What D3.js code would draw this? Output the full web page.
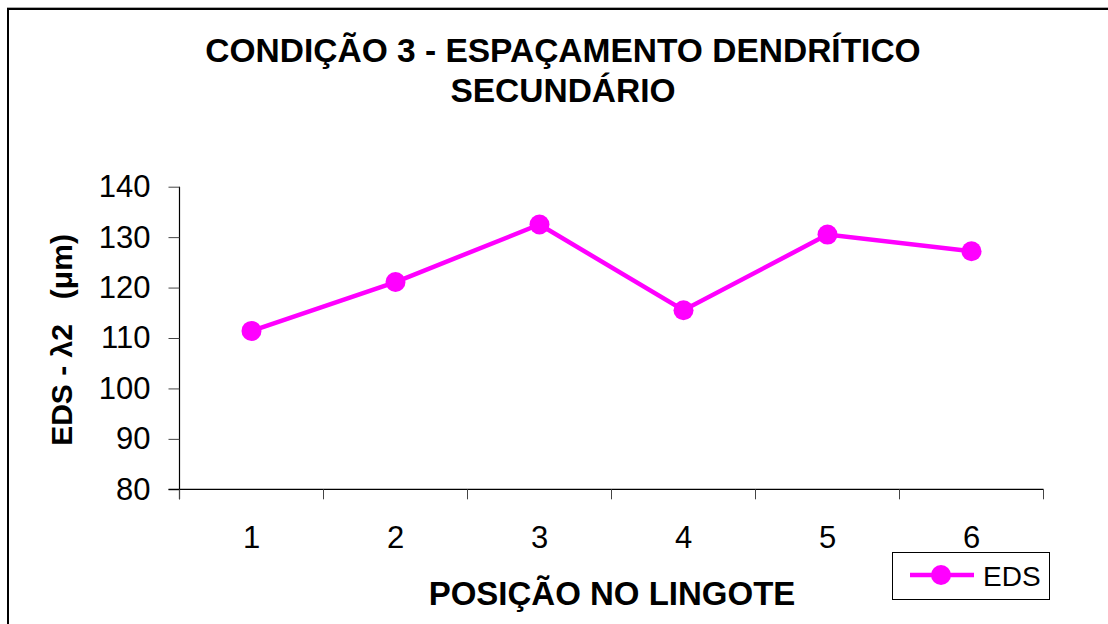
<!DOCTYPE html>
<html>
<head>
<meta charset="utf-8">
<script src="https://cdn.jsdelivr.net/npm/d3@7"></script>
<style>
  html, body { margin: 0; padding: 0; background: #fff; }
  svg { display: block; font-family: "Liberation Sans", Arial, sans-serif; }
</style>
</head>
<body>
<svg id="chart" width="1108" height="624"></svg>
<script>
// Secondary dendritic arm spacing (λ2) along the ingot, condition 3
const positions = ["1", "2", "3", "4", "5", "6"];
const edsValues = [111.4, 121.1, 132.5, 115.5, 130.5, 127.2];
const yTicks = [80, 90, 100, 110, 120, 130, 140];
const titleLines = ["CONDIÇÃO 3 - ESPAÇAMENTO DENDRÍTICO", "SECUNDÁRIO"];
const xTitle = "POSIÇÃO NO LINGOTE";
const yTitle = "EDS - λ2   (μm)";
const seriesName = "EDS";

const color = "#FF00FF";
const svg = d3.select("#chart");

// chart frame (open on the right and bottom edges)
svg.append("line").attr("x1", 7).attr("x2", 1108).attr("y1", 7.5).attr("y2", 7.5)
  .attr("stroke", "#aaa").attr("stroke-width", 1);
svg.append("rect").attr("x", 8).attr("y", 9).attr("width", 1200).attr("height", 700)
  .attr("fill", "none").attr("stroke", "#000").attr("stroke-width", 2);

const plot = { left: 179.5, right: 1043.5, top: 186.7, bottom: 489.3 };

const x = d3.scaleBand().domain(positions).range([plot.left, plot.right]);
const y = d3.scaleLinear().domain([80, 140]).range([plot.bottom, plot.top]);

// title
svg.append("g").selectAll("text").data(titleLines).join("text")
  .attr("x", 563).attr("y", (d, i) => 62 + i * 40)
  .attr("text-anchor", "middle")
  .attr("font-size", 33.5).attr("font-weight", "bold")
  .text(d => d);

// y axis
const yAxis = svg.append("g")
  .attr("transform", `translate(${plot.left},0)`)
  .call(d3.axisLeft(y).tickValues(yTicks).tickSize(11).tickPadding(18).tickFormat(d3.format("d")));
yAxis.select(".domain").attr("stroke", "#000").attr("stroke-width", 1.2)
  .attr("d", `M0,${plot.top}V${plot.bottom + 10}`);
yAxis.selectAll(".tick line").attr("stroke", "#444");
yAxis.selectAll(".tick text").attr("font-size", 31).attr("font-family", "Liberation Sans, Arial, sans-serif")
  .attr("fill", "#000");

// x axis: ticks on category boundaries
const xAxis = svg.append("g")
  .attr("transform", `translate(0,${plot.bottom})`);
xAxis.append("line").attr("x1", plot.left - 11).attr("x2", plot.right)
  .attr("stroke", "#000").attr("stroke-width", 1.2);
const boundaries = positions.map(p => x(p)).concat([x(positions[positions.length - 1]) + x.bandwidth()]);
xAxis.selectAll("line.tk").data(boundaries).join("line").attr("class", "tk")
  .attr("x1", d => d).attr("x2", d => d).attr("y1", 0).attr("y2", 10)
  .attr("stroke", "#444");
xAxis.selectAll("text").data(positions).join("text")
  .attr("x", d => x(d) + x.bandwidth() / 2).attr("y", 59)
  .attr("text-anchor", "middle").attr("font-size", 31).text(d => d);

// axis titles
svg.append("text").attr("x", 612).attr("y", 605).attr("text-anchor", "middle")
  .attr("font-size", 33).attr("font-weight", "bold").text(xTitle);
svg.append("text")
  .attr("transform", `translate(72,${(plot.top + plot.bottom) / 2 + 2}) rotate(-90)`)
  .attr("text-anchor", "middle").attr("font-size", 30).attr("font-weight", "bold")
  .style("white-space", "pre").text(yTitle);

// series line and markers
const line = d3.line().x((d, i) => x(positions[i]) + x.bandwidth() / 2).y(d => y(d));
svg.append("path").datum(edsValues).attr("d", line)
  .attr("fill", "none").attr("stroke", color).attr("stroke-width", 4.5);
svg.append("g").selectAll("circle").data(edsValues).join("circle")
  .attr("cx", (d, i) => x(positions[i]) + x.bandwidth() / 2).attr("cy", d => y(d))
  .attr("r", 10).attr("fill", color);

// legend
const lg = svg.append("g");
lg.append("rect").attr("x", 892.5).attr("y", 552.5).attr("width", 157).attr("height", 47)
  .attr("fill", "#fff").attr("stroke", "#000").attr("stroke-width", 1);
lg.append("line").attr("x1", 910).attr("x2", 974).attr("y1", 575).attr("y2", 575)
  .attr("stroke", color).attr("stroke-width", 4.5);
lg.append("circle").attr("cx", 941).attr("cy", 575).attr("r", 10).attr("fill", color);
lg.append("text").attr("x", 983).attr("y", 586).attr("font-size", 28).text(seriesName);
</script>
</body>
</html>
